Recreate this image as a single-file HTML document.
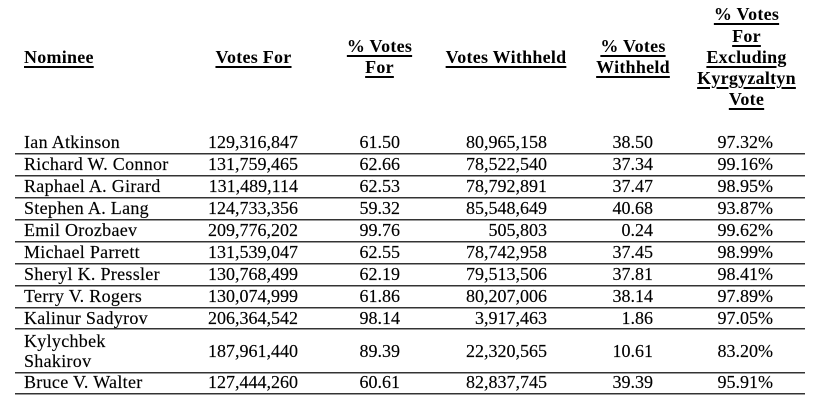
<!DOCTYPE html>
<html>
<head>
<meta charset="utf-8">
<style>
  html, body { margin:0; padding:0; background:#fff; }
  body { width:813px; height:405px; position:relative; overflow:hidden;
         font-family:"Liberation Serif", "Times New Roman", serif; color:#000; }
  .h { position:absolute; top:4.4px; height:106px; display:flex; flex-direction:column;
       justify-content:center; align-items:center; font-weight:bold; font-size:18px;
       line-height:21.2px; text-align:center; white-space:nowrap; letter-spacing:0.25px; }
  .h span { text-decoration:underline; text-decoration-thickness:1.5px; text-underline-offset:2.5px; }
  .r { position:absolute; font-size:18px; line-height:22px; white-space:nowrap; -webkit-text-stroke:0.15px #000; }
  .c0 { left:24px; letter-spacing:0.3px; }
  .c1 { right:515px; text-align:right; }
  .c2 { right:413px; text-align:right; }
  .c3 { right:266px; text-align:right; }
  .c4 { right:160px; text-align:right; }
  .c5 { right:40px; text-align:right; }
  .ln { position:absolute; left:15px; width:790px; height:1px; background:#333;
        border-bottom:1px solid #9a9a9a; }
</style>
</head>
<body>
  <div class="h" style="left:24px; align-items:flex-start;"><span>Nominee</span></div>
  <div class="h" style="left:203px; width:101px;"><span>Votes For</span></div>
  <div class="h" style="left:339px; width:81px;"><span>% Votes</span><span>For</span></div>
  <div class="h" style="left:436px; width:140px;"><span>Votes Withheld</span></div>
  <div class="h" style="left:588px; width:90px;"><span>% Votes</span><span>Withheld</span></div>
  <div class="h" style="left:686px; width:121px;"><span>% Votes</span><span>For</span><span>Excluding</span><span>Kyrgyzaltyn</span><span>Vote</span></div>

  <div class="r c0" style="top:131.4px">Ian Atkinson</div>
  <div class="r c1" style="top:131.4px">129,316,847</div>
  <div class="r c2" style="top:131.4px">61.50</div>
  <div class="r c3" style="top:131.4px">80,965,158</div>
  <div class="r c4" style="top:131.4px">38.50</div>
  <div class="r c5" style="top:131.4px">97.32%</div>
  <div class="ln" style="top:152.5px"></div>

  <div class="r c0" style="top:153.4px">Richard W. Connor</div>
  <div class="r c1" style="top:153.4px">131,759,465</div>
  <div class="r c2" style="top:153.4px">62.66</div>
  <div class="r c3" style="top:153.4px">78,522,540</div>
  <div class="r c4" style="top:153.4px">37.34</div>
  <div class="r c5" style="top:153.4px">99.16%</div>
  <div class="ln" style="top:174.5px"></div>

  <div class="r c0" style="top:175.4px">Raphael A. Girard</div>
  <div class="r c1" style="top:175.4px">131,489,114</div>
  <div class="r c2" style="top:175.4px">62.53</div>
  <div class="r c3" style="top:175.4px">78,792,891</div>
  <div class="r c4" style="top:175.4px">37.47</div>
  <div class="r c5" style="top:175.4px">98.95%</div>
  <div class="ln" style="top:196.5px"></div>

  <div class="r c0" style="top:197.4px">Stephen A. Lang</div>
  <div class="r c1" style="top:197.4px">124,733,356</div>
  <div class="r c2" style="top:197.4px">59.32</div>
  <div class="r c3" style="top:197.4px">85,548,649</div>
  <div class="r c4" style="top:197.4px">40.68</div>
  <div class="r c5" style="top:197.4px">93.87%</div>
  <div class="ln" style="top:218.5px"></div>

  <div class="r c0" style="top:219.4px">Emil Orozbaev</div>
  <div class="r c1" style="top:219.4px">209,776,202</div>
  <div class="r c2" style="top:219.4px">99.76</div>
  <div class="r c3" style="top:219.4px">505,803</div>
  <div class="r c4" style="top:219.4px">0.24</div>
  <div class="r c5" style="top:219.4px">99.62%</div>
  <div class="ln" style="top:240.5px"></div>

  <div class="r c0" style="top:241.4px">Michael Parrett</div>
  <div class="r c1" style="top:241.4px">131,539,047</div>
  <div class="r c2" style="top:241.4px">62.55</div>
  <div class="r c3" style="top:241.4px">78,742,958</div>
  <div class="r c4" style="top:241.4px">37.45</div>
  <div class="r c5" style="top:241.4px">98.99%</div>
  <div class="ln" style="top:262.5px"></div>

  <div class="r c0" style="top:263.4px">Sheryl K. Pressler</div>
  <div class="r c1" style="top:263.4px">130,768,499</div>
  <div class="r c2" style="top:263.4px">62.19</div>
  <div class="r c3" style="top:263.4px">79,513,506</div>
  <div class="r c4" style="top:263.4px">37.81</div>
  <div class="r c5" style="top:263.4px">98.41%</div>
  <div class="ln" style="top:284.5px"></div>

  <div class="r c0" style="top:285.4px">Terry V. Rogers</div>
  <div class="r c1" style="top:285.4px">130,074,999</div>
  <div class="r c2" style="top:285.4px">61.86</div>
  <div class="r c3" style="top:285.4px">80,207,006</div>
  <div class="r c4" style="top:285.4px">38.14</div>
  <div class="r c5" style="top:285.4px">97.89%</div>
  <div class="ln" style="top:306.5px"></div>

  <div class="r c0" style="top:307.2px">Kalinur Sadyrov</div>
  <div class="r c1" style="top:307.2px">206,364,542</div>
  <div class="r c2" style="top:307.2px">98.14</div>
  <div class="r c3" style="top:307.2px">3,917,463</div>
  <div class="r c4" style="top:307.2px">1.86</div>
  <div class="r c5" style="top:307.2px">97.05%</div>
  <div class="ln" style="top:327.8px"></div>

  <div class="r c0" style="top:331px; line-height:20px;">Kylychbek<br>Shakirov</div>
  <div class="r c1" style="top:340px">187,961,440</div>
  <div class="r c2" style="top:340px">89.39</div>
  <div class="r c3" style="top:340px">22,320,565</div>
  <div class="r c4" style="top:340px">10.61</div>
  <div class="r c5" style="top:340px">83.20%</div>
  <div class="ln" style="top:371.8px"></div>

  <div class="r c0" style="top:371.3px">Bruce V. Walter</div>
  <div class="r c1" style="top:371.3px">127,444,260</div>
  <div class="r c2" style="top:371.3px">60.61</div>
  <div class="r c3" style="top:371.3px">82,837,745</div>
  <div class="r c4" style="top:371.3px">39.39</div>
  <div class="r c5" style="top:371.3px">95.91%</div>
  <div class="ln" style="top:392.5px"></div>
</body>
</html>
